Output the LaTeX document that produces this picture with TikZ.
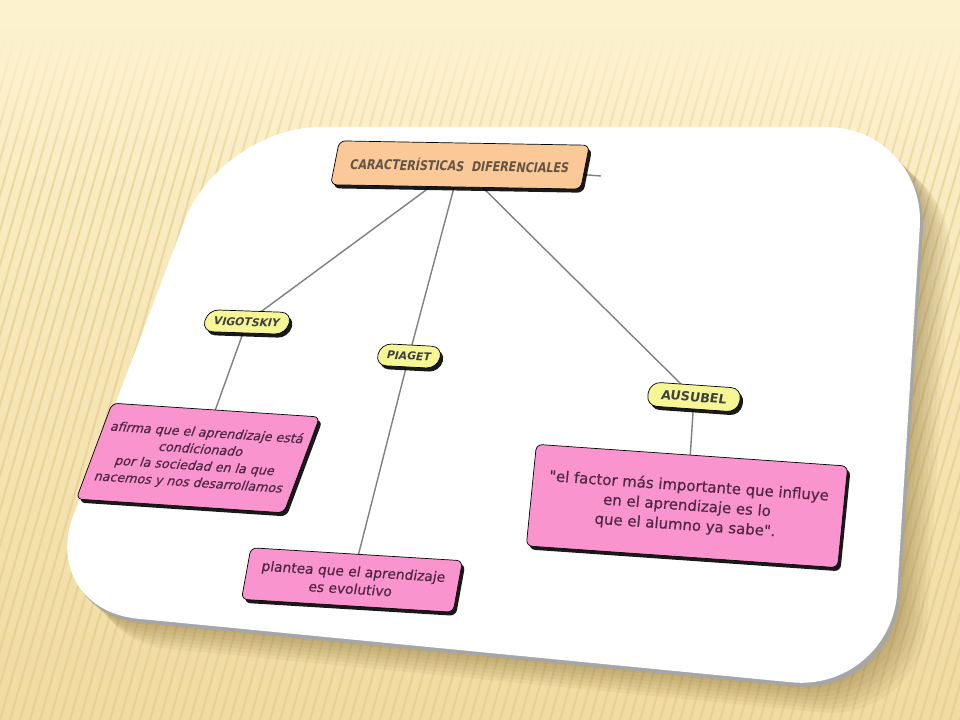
\documentclass[tikz,border=0pt]{standalone}
\usepackage{fontspec}
\setmainfont{DejaVu Sans}
\newfontfamily\headfont{DejaVu Sans}[FakeStretch=0.82]
\newfontfamily\ideafont{DejaVu Sans}[FakeBold=0.6]
\usetikzlibrary{calc,shadows,fadings}

\definecolor{cream}{RGB}{253,242,206}
\definecolor{sand}{RGB}{240,219,160}
\definecolor{stripecol}{RGB}{222,196,128}
\definecolor{shadowbrown}{RGB}{110,85,30}
\definecolor{peach}{RGB}{251,201,152}
\definecolor{lemon}{RGB}{246,246,150}
\definecolor{rosa}{RGB}{250,148,206}
\definecolor{linkgray}{RGB}{128,128,128}
\definecolor{plum}{RGB}{80,40,70}
\definecolor{headtext}{RGB}{100,84,70}

\pgfdeclarelayer{back}
\pgfdeclarelayer{links}
\pgfsetlayers{back,links,main}

\tikzset{
  box/.style={draw=black, line width=0.5pt, rounded corners=0.15cm, align=center, inner sep=2pt,
    drop shadow={shadow xshift=0.07cm, shadow yshift=-0.09cm, fill=black, opacity=0.9}},
  headbox/.style={box, fill=peach, minimum width=6.25cm, minimum height=1.1cm,
    font=\headfont\bfseries\fontsize{9.6}{11}\selectfont, text=headtext},
  namebox/.style={box, fill=lemon, rounded corners=0.27cm, minimum height=0.55cm,
    font=\bfseries\fontsize{7.7}{9}\selectfont, text=black!75},
  ideabox/.style={box, fill=rosa, text=plum},
  link/.style={draw=linkgray, line width=1pt},
  card/.style={rounded corners=2.5cm}
}

% card outline, moved by #1
\newcommand{\cardpath}[1]{($(ctl)!0.5!(ctr)+(#1)$) -- ($(ctr)+(#1)$) -- ($(cbr)+(#1)$)
  -- ($(cbl)+(#1)$) -- ($(ctl)+(#1)$) -- cycle}

\begin{document}
\begin{tikzpicture}[x=0.025cm, y=-0.025cm]
\useasboundingbox (0,0) rectangle (960,720);

\begin{pgfonlayer}{back}
  % slide background
  \shade[top color=cream, bottom color=sand] (0,0) rectangle (960,720);
  \foreach \s in {-300,-290,...,1200}
    \draw[stripecol, line width=1.4pt, opacity=0.5] (\s,20) -- (\s-200,720);
  \fill[cream] (0,0) rectangle (960,30);
  \fill[cream, path fading=south] (0,29) rectangle (960,170);
  % white card
  \coordinate (ctl) at (220,127);
  \coordinate (ctr) at (926,127);
  \coordinate (cbr) at (891,692);
  \coordinate (cbl) at (38,609);
  \foreach \d in {6,10,...,30}
    \fill[shadowbrown, opacity=0.06, card] \cardpath{\d,\d};
  \fill[black!35, card] \cardpath{3,4};
  \fill[white, card] \cardpath{0,0};
\end{pgfonlayer}

\node[headbox, rotate=-1, xslant=0.18] (head) at (460,165) {CARACTERÍSTICAS\ \ DIFERENCIALES};
\coordinate (stub) at (601,176);

\node[namebox, minimum width=2.1cm, rotate=-2, xslant=0.25] (vig) at (247,322) {VIGOTSKIY};
\node[namebox, minimum width=1.55cm, rotate=-3, xslant=0.2] (pia) at (409,356) {PIAGET};
\node[namebox, minimum width=2.3cm, minimum height=0.6cm, rotate=-4, xslant=0.1,
  font=\bfseries\fontsize{9}{11}\selectfont] (aus) at (694,397) {AUSUBEL};

\node[ideabox, minimum width=5.2cm, minimum height=2.45cm, rotate=-3.8, xslant=0.3,
  font=\ideafont\fontsize{9}{12}\selectfont] (vigidea) at (198,458)
  {afirma que el aprendizaje está\\condicionado\\por la sociedad en la que\\nacemos y nos desarrollamos};
\node[ideabox, minimum width=5.3cm, minimum height=1.3cm, rotate=-3.5, xslant=0.12,
  font=\ideafont\fontsize{9.8}{12.5}\selectfont] (piaidea) at (352,580)
  {plantea que el aprendizaje\\es evolutivo};
\node[ideabox, minimum width=7.8cm, minimum height=2.55cm, rotate=-4, xslant=0.03,
  font=\ideafont\fontsize{10.6}{14}\selectfont] (ausidea) at (687,506)
  {\char34 el factor más importante que influye\\en el aprendizaje es lo\\que el alumno ya sabe\char34.};

\begin{pgfonlayer}{links}
  \draw[link] (head.center) -- (stub);
  \draw[link] (head.center) -- (vig.center);
  \draw[link] (head.center) -- (pia.center);
  \draw[link] (head.center) -- (aus.center);
  \draw[link] (vig.center) -- (vigidea.center);
  \draw[link] (pia.center) -- (piaidea.center);
  \draw[link] (aus.center) -- (ausidea.center);
\end{pgfonlayer}
\end{tikzpicture}
\end{document}
